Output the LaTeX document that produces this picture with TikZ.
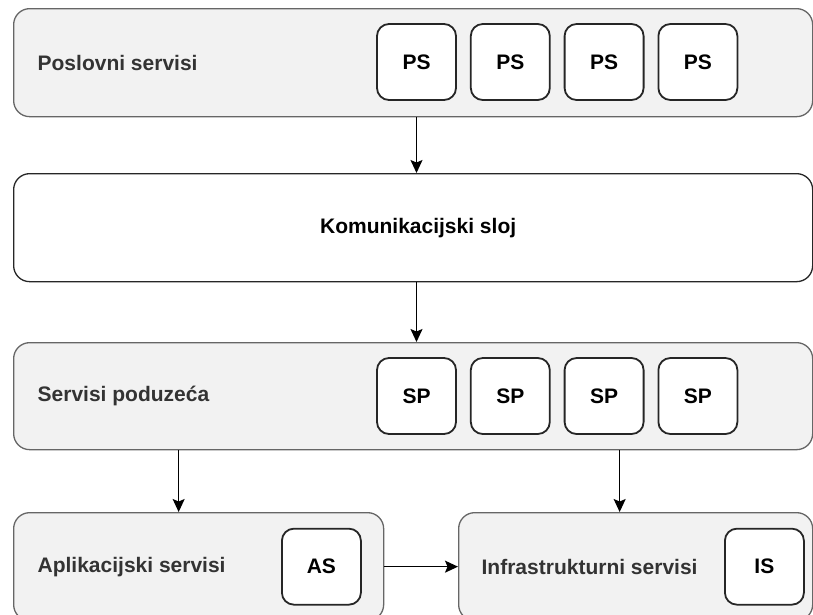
\documentclass[tikz,border=0pt]{standalone}
\usepackage{fontspec}
\setmainfont{Liberation Sans}
\usetikzlibrary{positioning, arrows.meta}

\begin{document}
\begin{tikzpicture}[x=1pt, y=-1pt, >={Stealth[length=13pt, width=12pt, inset=2.5pt]}, line width=1.3pt,
  layer/.style={draw=black!60, fill=black!5, rounded corners=16pt, minimum height=108pt, inner sep=0pt, anchor=north west},
  svc/.style={draw=black!85, fill=white, line width=1.8pt, rounded corners=12pt, minimum width=79pt, minimum height=76pt, inner sep=0pt, font=\bfseries\fontsize{21}{25}\selectfont},
  layertext/.style={inner sep=0pt, text=black!80, font=\bfseries\fontsize{21}{25}\selectfont}]
\useasboundingbox (0,0) rectangle (813,614);
\clip (0,0) rectangle (813,614);
% layers
\node[layer, minimum width=799pt] at (13,8) (pos) {};
\node[layer, minimum width=799pt, draw=black!85, fill=white] at (13,173) (kom) {};
\node[layer, minimum width=799pt, minimum height=107pt] at (13,342) (pod) {};
\node[layer, minimum width=370pt] at (13,512) (apl) {};
\node[layer, minimum width=354pt] at (458,512) (inf) {};
% layer names
\node[layertext, right=24pt of pos.west] (posname) {Poslovni servisi};
\node[layertext, text=black] at ([xshift=5pt]kom.center) (komname) {Komunikacijski sloj};
\node[layertext, right=24pt of pod.west] (podname) {Servisi poduzeća};
\node[layertext, right=24pt of apl.west] (aplname) {Aplikacijski servisi};
\node[layertext, right=23pt of inf.west] (infname) {Infrastrukturni servisi};
% services
\node[svc] at (416.5,62) (ps1) {PS};
\node[svc, right=13pt of ps1] (ps2) {PS};
\node[svc, right=13pt of ps2] (ps3) {PS};
\node[svc, right=13pt of ps3] (ps4) {PS};
\node[svc] at (416.5,396) (sp1) {SP};
\node[svc, right=13pt of sp1] (sp2) {SP};
\node[svc, right=13pt of sp2] (sp3) {SP};
\node[svc, right=13pt of sp3] (sp4) {SP};
\node[svc, left=22.5pt of apl.east] (as) {AS};
\node[svc, left=8.5pt of inf.east] (is) {IS};
% arrows
\coordinate (aplin) at ([xshift=-20pt]apl.north);
\coordinate (infin) at ([xshift=-16pt]inf.north);
\draw[->] (pos.south -| ps1) -- (kom.north -| ps1);
\draw[->] (kom.south -| sp1) -- (pod.north -| sp1);
\draw[->] (pod.south -| aplin) -- (aplin);
\draw[->] (pod.south -| infin) -- (infin);
\draw[->] (apl.east) -- (inf.west);
\end{tikzpicture}
\end{document}
